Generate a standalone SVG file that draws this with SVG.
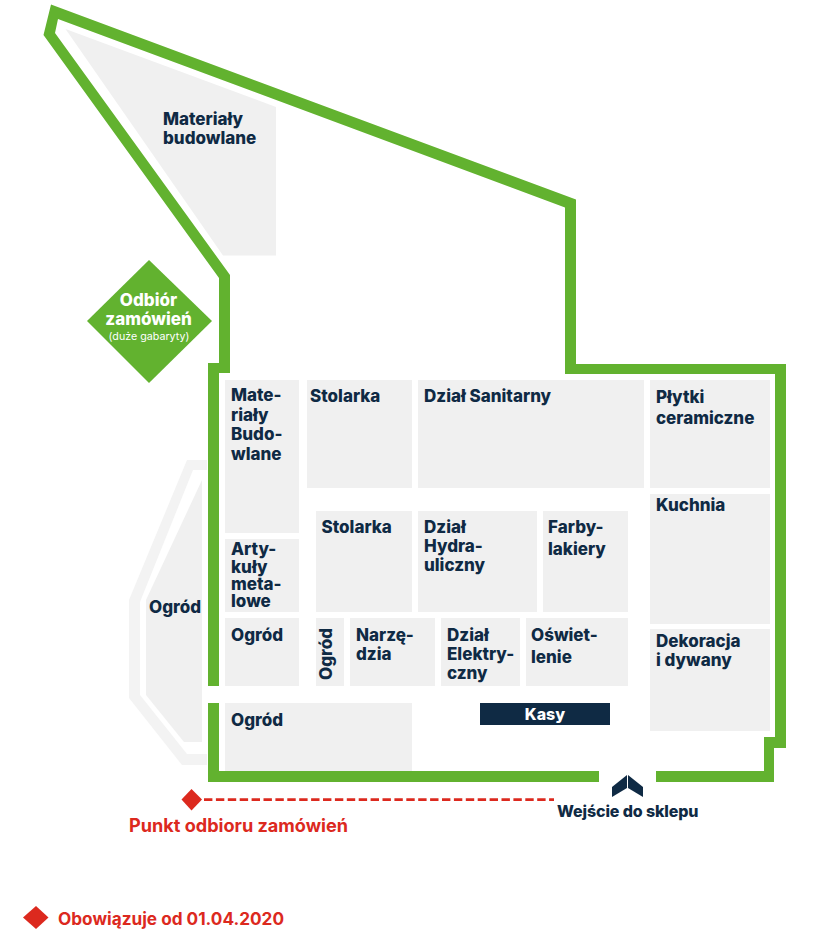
<svg xmlns="http://www.w3.org/2000/svg" width="829" height="950" viewBox="0 0 829 950">
<style>
text{font-family:Inter,"Noto Sans","Liberation Sans",sans-serif;font-weight:800;font-size:17px;fill:#0f2a44}
.room{fill:#f0f0f0}
.wall{fill:#62b22f}
.w{fill:#fff}
.r{fill:#dc291e}
</style>
<rect width="829" height="950" fill="#fff"/>
<g id="walls">
<polygon class="wall" points="656,771 764,771 764,737 775,737 775,374 565,374 565,207.5 58,19 55,33 230,275 230,373 219,373 219,686 208,686 208,363 219,363 219,278 43.5,35 51,4.5 576,199.5 576,364 786,364 786,748 774,748 774,782 656,782"/>
<polygon class="wall" points="208,703 219,703 219,771 599,771 599,782 208,782"/>
</g>
<g id="materialy-budowlane"><polygon class="room" points="65.5,29 276,107 276,255.5 223,255.5"/><text x="163" y="125">Materiały</text><text x="163" y="144">budowlane</text></g>
<g id="odbior"><polygon class="wall" points="87,321 149,260 212,321 149,383"/><text class="w" x="148.500" y="306" text-anchor="middle">Odbiór</text><text class="w" x="148.500" y="325" text-anchor="middle">zamówień</text><text class="w" x="149" y="340" text-anchor="middle" style="font-size:10.700px;font-weight:400">(duże gabaryty)</text></g>
<g id="ogrod-zewn"><polygon points="207,460 187,460 129,600 129,698 182,765 207,765 207,754 187,754 140,695 140,602 193,470 207,470" fill="#f3f3f3"/><polygon class="room" points="202,480 146,600 146,695 184,742 202,742"/><text x="149" y="613">Ogród</text></g>
<g id="materialy-budowlane-2"><rect class="room" x="225" y="380" width="74" height="153"/><text x="231" y="401">Mate-</text><text x="231" y="420.500">riały</text><text x="231" y="440">Budo-</text><text x="231" y="460">wlane</text></g>
<g id="artykuly"><rect class="room" x="225" y="539" width="74" height="73"/><text x="231" y="555">Arty-</text><text x="231" y="572.500">kuły</text><text x="231" y="590">meta-</text><text x="231" y="607">lowe</text></g>
<g id="ogrod-1"><rect class="room" x="225" y="618" width="74" height="68"/><text x="231" y="641">Ogród</text></g>
<g id="ogrod-2"><rect class="room" x="225" y="703" width="187" height="68"/><text x="231" y="726">Ogród</text></g>
<g id="stolarka-1"><rect class="room" x="307" y="380" width="105" height="108"/><text x="310" y="402">Stolarka</text></g>
<g id="sanitarny"><rect class="room" x="418" y="380" width="226" height="108"/><text x="424" y="402">Dział Sanitarny</text></g>
<g id="plytki"><rect class="room" x="650" y="380" width="120" height="108"/><text x="656" y="403">Płytki</text><text x="656" y="424">ceramiczne</text></g>
<g id="kuchnia"><rect class="room" x="650" y="494" width="120" height="130"/><text x="656" y="511">Kuchnia</text></g>
<g id="dekoracja"><rect class="room" x="650" y="629" width="120" height="102"/><text x="656" y="647">Dekoracja</text><text x="656" y="666">i dywany</text></g>
<g id="stolarka-2"><rect class="room" x="316" y="511" width="96" height="101"/><text x="321.500" y="533">Stolarka</text></g>
<g id="hydraulika"><rect class="room" x="418" y="511" width="119" height="101"/><text x="424" y="533">Dział</text><text x="424" y="552">Hydra-</text><text x="424" y="571">uliczny</text></g>
<g id="farby"><rect class="room" x="543" y="511" width="85" height="101"/><text x="548" y="533">Farby-</text><text x="548" y="555">lakiery</text></g>
<g id="ogrod-3"><rect class="room" x="316" y="618" width="28" height="68"/><text transform="translate(332 680) rotate(-90)">Ogród</text></g>
<g id="narzedzia"><rect class="room" x="350" y="618" width="85" height="68"/><text x="356" y="641">Narzę-</text><text x="356" y="660">dzia</text></g>
<g id="elektryczny"><rect class="room" x="441" y="618" width="79" height="68"/><text x="447" y="641">Dział</text><text x="447" y="660">Elektry-</text><text x="447" y="679">czny</text></g>
<g id="oswietlenie"><rect class="room" x="526" y="618" width="102" height="68"/><text x="531" y="641">Oświet-</text><text x="531" y="663">lenie</text></g>
<g id="kasy"><rect x="480" y="703" width="130" height="22" fill="#0f2a44"/><text class="w" x="545" y="720" text-anchor="middle" style="font-size:16px">Kasy</text></g>
<g id="wejscie"><polygon points="612,797 612,787 627,775 627,788" fill="#0f2a44"/><polygon points="643,797 643,787 628,775 628,788" fill="#0f2a44"/><text x="557" y="817" style="font-size:16px;letter-spacing:-.12px">Wejście do sklepu</text></g>
<g id="connectors"><line x1="204" y1="799.600" x2="554" y2="799.600" stroke="#dc291e" stroke-width="2.600" stroke-dasharray="8.400 3.500"/></g>
<g id="punkt-odbioru"><polygon class="r" points="181.500,799.500 191.500,789 202,799.500 191.500,810.500"/><text class="r" x="129" y="832" style="font-size:18.100px;font-weight:700">Punkt odbioru zamówień</text></g>
<g id="legenda"><polygon class="r" points="23,917.500 36,906 48.500,917.500 36,929"/><text class="r" x="58" y="925" style="font-size:17.200px;font-weight:700">Obowiązuje od 01.04.2020</text></g>
</svg>
